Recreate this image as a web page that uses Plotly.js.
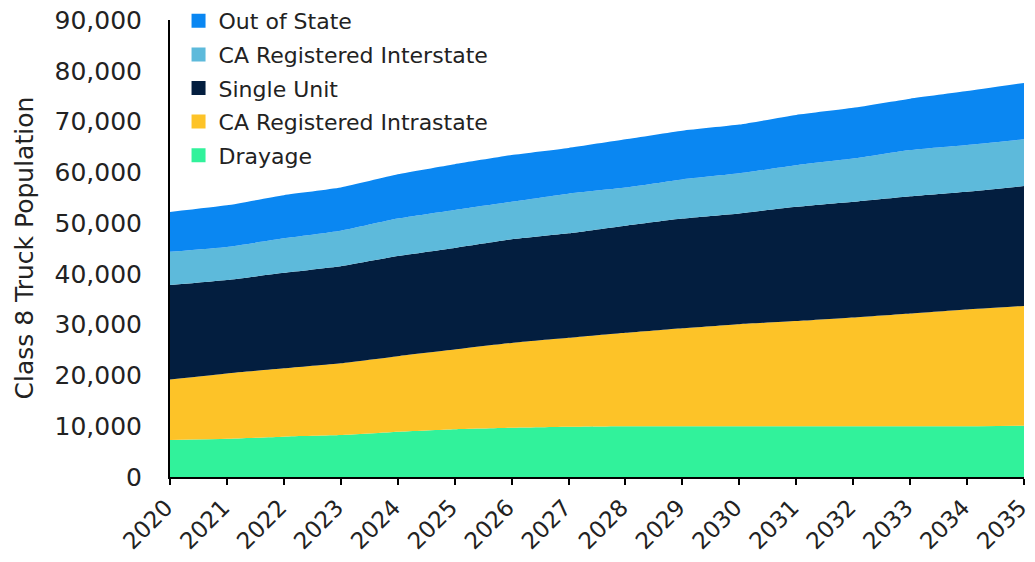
<!DOCTYPE html>
<html>
<head>
<meta charset="utf-8">
<script src="https://cdn.plot.ly/plotly-3.0.1.min.js"></script>
<style>html,body{margin:0;padding:0;background:#fff;}#chart{width:1035px;height:562px;}</style>
</head>
<body>
<div id="chart"></div>
<script>
const years = [2020,2021,2022,2023,2024,2025,2026,2027,2028,2029,2030,2031,2032,2033,2034,2035];
const drayage = [7300,7550,7950,8250,8900,9400,9700,9900,10000,10000,10000,10000,10000,10000,10000,10100];
const caIntrastate = [11900,12850,13450,14150,14900,15700,16700,17500,18400,19300,20100,20700,21400,22200,23000,23600];
const singleUnit = [18600,18400,18800,19100,19700,20000,20400,20600,21100,21600,21800,22500,22800,23100,23200,23600];
const caInterstate = [6550,6500,6800,7000,7400,7500,7400,7800,7500,7700,7900,8200,8500,9100,9200,9200];
const outOfState = [7850,8200,8500,8500,8700,9000,9200,9000,9500,9600,9600,9900,10000,10100,10600,11100];

const seriesNames = ["Drayage","CA Registered Intrastate","Single Unit","CA Registered Interstate","Out of State"];
const seriesData = [drayage, caIntrastate, singleUnit, caInterstate, outOfState];
const seriesColors = ["#31F29B","#FDC328","#031E3F","#5DBADB","#0A87F2"];
const yTitle = 'Class 8 Truck Population';

const traces = seriesNames.map((n,i)=>({
  x: years, y: seriesData[i], name: n, type: 'scatter', mode: 'lines',
  stackgroup: 'one', fillcolor: seriesColors[i], showlegend: false,
  line: {width: 0, color: seriesColors[i], shape: 'spline', smoothing: 0.4}
}));
// legend entries with square swatches (no data drawn), top series first
for (let i = seriesNames.length - 1; i >= 0; i--) {
  traces.push({x: [null], y: [null], name: seriesNames[i], type: 'scatter', mode: 'markers',
    legendgroup: 'g'+i, marker: {symbol: 'square', size: 14, color: seriesColors[i]}, hoverinfo: 'skip'});
}

const font = "'DejaVu Sans', sans-serif";
const layout = {
  width: 1035, height: 562,
  margin: {l: 170, r: 11, t: 20, b: 85, autoexpand: false},
  paper_bgcolor: '#fff', plot_bgcolor: '#fff',
  font: {family: font, color: '#222', size: 22},
  showlegend: true,
  legend: {x: 0.01, xref: 'paper', y: 1.0, yref: 'container', xanchor: 'left', yanchor: 'top', traceorder: 'grouped',
    font: {size: 22, color: '#222', family: font}, bgcolor: 'rgba(0,0,0,0)', itemwidth: 30, tracegroupgap: 2},
  xaxis: {range: [2020, 2035.0001], tickmode: 'array', tickvals: years, ticktext: years.map(String),
    tickangle: -45, ticks: 'outside', ticklen: 6, tickcolor: '#000', tickwidth: 2, showline: true, linecolor: '#000', linewidth: 2,
    showgrid: false, zeroline: false, ticklabeloverflow: 'allow', ticklabelshift: -4, automargin: false,
    tickfont: {size: 23, color: '#222'}},
  yaxis: {range: [0, 90000], dtick: 10000, tickformat: ',d', showline: true, linecolor: '#000', linewidth: 2,
    ticks: '', showgrid: false, zeroline: false, ticklabelstandoff: 21, automargin: false,
    tickfont: {size: 25, color: '#222'}},
  annotations: [{text: yTitle, xref: 'paper', yref: 'paper', x: -146/854, y: 0.5, xanchor: 'center', yanchor: 'middle',
    textangle: -90, showarrow: false, font: {size: 25, color: '#222', family: font}}]
};
Plotly.newPlot('chart', traces, layout, {displayModeBar: false, staticPlot: true});
</script>
</body>
</html>
